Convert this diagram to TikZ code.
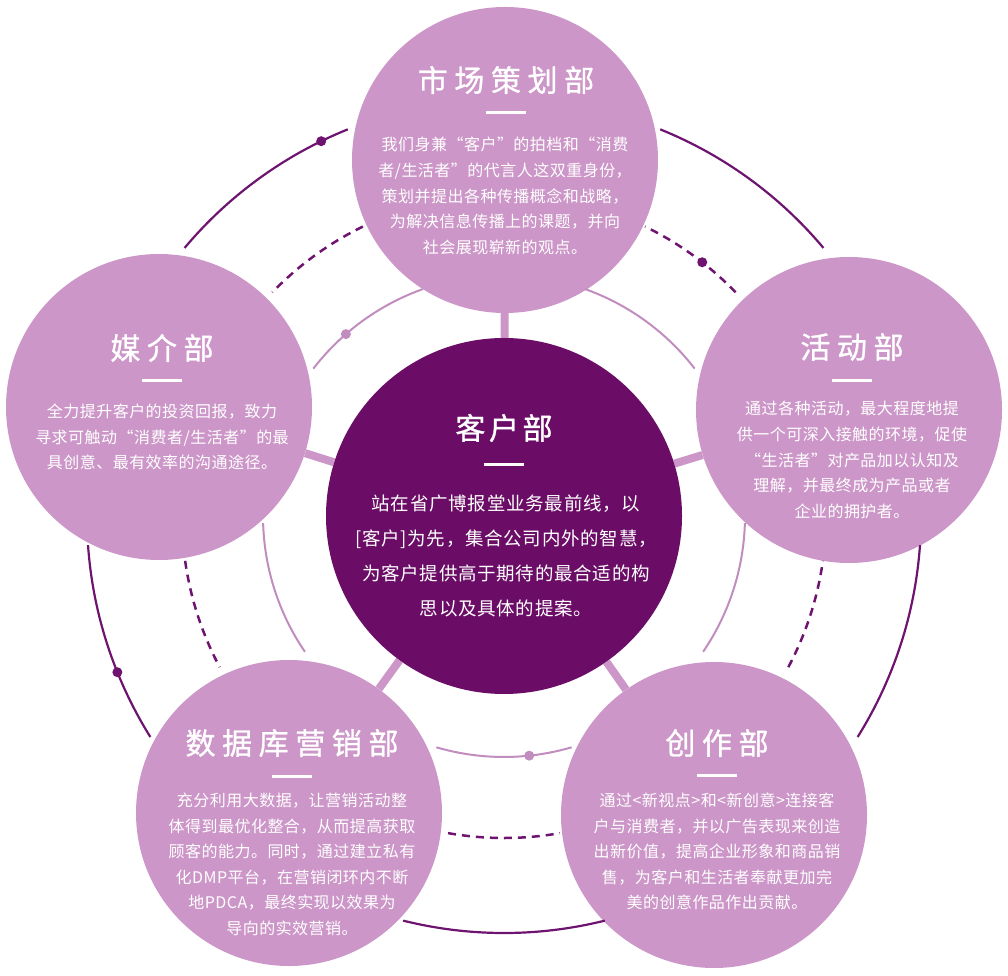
\documentclass[tikz,border=0pt]{standalone}
\usepackage{fontspec}
\newfontfamily\deptfont[LetterSpace=22,FakeBold=1]{Noto Sans CJK SC}
\newfontfamily\hubtitlefont[LetterSpace=12,FakeBold=1]{Noto Sans CJK SC}
\newfontfamily\deptbodyfont[LetterSpace=3]{Noto Sans CJK SC}
\newfontfamily\hubbodyfont[LetterSpace=4]{Noto Sans CJK SC}
\usetikzlibrary{calc,backgrounds}
\definecolor{deptpurple}{HTML}{CC96C8}
\definecolor{hubpurple}{HTML}{6B0D67}
\definecolor{ringdark}{HTML}{6E1470}
\definecolor{ringlight}{HTML}{C08DBE}
\tikzset{
    dept/.style={circle,fill=deptpurple,minimum size=306pt,inner sep=0pt},
    hub/.style={circle,fill=hubpurple,minimum size=356pt,inner sep=0pt},
    dept title/.style={text=white,inner sep=0pt,font=\deptfont\fontsize{30}{36}\selectfont},
    hub title/.style={text=white,inner sep=0pt,font=\hubtitlefont\fontsize{30}{36}\selectfont},
    dept body/.style={text=white,align=center,inner sep=0pt,font=\deptbodyfont\fontsize{16}{25.6}\selectfont},
    hub body/.style={text=white,align=center,inner sep=0pt,font=\hubbodyfont\fontsize{18.5}{35}\selectfont},
    title bar/.style={fill=white,minimum width=40pt,minimum height=3pt,inner sep=0pt},
    spoke/.style={deptpurple,line width=8pt},
    outer ring/.style={ringdark,line width=2.2pt},
    dashed ring/.style={ringdark,line width=2.5pt,dash pattern=on 8pt off 6pt},
    inner ring/.style={ringlight,line width=2pt},
    ring dot/.style={circle,fill=#1,inner sep=0pt,minimum size=10pt},
}

\begin{document}
\begin{tikzpicture}[x=1pt,y=1pt]
    \useasboundingbox (0,0) rectangle (1008,975);

    \node[hub] (hub) at (504,459) {};
    \node[dept] (market) at (505,815) {};
    \node[dept] (event) at (849,565) {};
    \node[dept] (media) at (159,568) {};
    \node[dept] (data) at (289,162) {};
    \node[dept] (creative) at (714,160) {};

    \begin{scope}[on background layer]
        \foreach \d in {market,event,media,data,creative}
            \draw[spoke] (hub) -- (\d);
    \end{scope}

    % rings between the departments
    \foreach \a in {-90,-18,54,126,198} {
        \draw[inner ring] ($(hub)+(\a-16.3:241)$) arc[start angle=\a-16.3, end angle=\a+16.3, radius=241];
        \draw[dashed ring] ($(hub)+(\a-10:322)$) arc[start angle=\a-10, end angle=\a+10, radius=322];
        \draw[outer ring] ($(hub)+(\a-14:417)$) arc[start angle=\a-14, end angle=\a+14, radius=417];
    }
    \node[ring dot=ringdark] (outer dot a) at ($(hub)+(116:417)$) {};
    \node[ring dot=ringdark] (outer dot b) at ($(hub)+(202:417)$) {};
    \node[ring dot=ringdark] (dashed dot) at ($(hub)+(52:322)$) {};
    \node[ring dot=ringlight] (inner dot a) at ($(hub)+(131:241)$) {};
    \node[ring dot=ringlight] (inner dot b) at ($(hub)+(-84:241)$) {};

    % centre
    \node[hub title] (hub title) at ($(hub)+(0,88)$) {客户部};
    \node[title bar] (hub bar) at ($(hub)+(0,51)$) {};
    \node[hub body] (hub text) at ($(hub)+(2,-39.5)$) {站在省广博报堂业务最前线，以\\{}[客户]为先，集合公司内外的智慧，\\为客户提供高于期待的最合适的构\\思以及具体的提案。};

    % departments
    \node[dept title] (market title) at ($(market)+(1,80)$) {市场策划部};
    \node[title bar] (market bar) at ($(market)+(1,47)$) {};
    \node[dept body] (market text) at ($(market)+(0,-36)$) {我们身兼“客户”的拍档和“消费\\者/生活者”的代言人这双重身份，\\策划并提出各种传播概念和战略，\\为解决信息传播上的课题，并向\\社会展现崭新的观点。};

    \node[dept title] (event title) at ($(event)+(3,63)$) {活动部};
    \node[title bar] (event bar) at ($(event)+(3,29)$) {};
    \node[dept body] (event text) at ($(event)+(3,-50)$) {通过各种活动，最大程度地提\\供一个可深入接触的环境，促使\\“生活者”对产品加以认知及\\理解，并最终成为产品或者\\企业的拥护者。};

    \node[dept title] (media title) at ($(media)+(3,59)$) {媒介部};
    \node[title bar] (media bar) at ($(media)+(3,26)$) {};
    \node[dept body] (media text) at ($(media)+(3,-30)$) {全力提升客户的投资回报，致力\\寻求可触动“消费者/生活者”的最\\具创意、最有效率的沟通途径。};

    \node[dept title] (data title) at ($(data)+(3,70)$) {数据库营销部};
    \node[title bar] (data bar) at ($(data)+(3,37)$) {};
    \node[dept body] (data text) at ($(data)+(3,-51.5)$) {充分利用大数据，让营销活动整\\体得到最优化整合，从而提高获取\\顾客的能力。同时，通过建立私有\\化DMP平台，在营销闭环内不断\\地PDCA，最终实现以效果为\\导向的实效营销。};

    \node[dept title] (creative title) at ($(creative)+(3,72)$) {创作部};
    \node[title bar] (creative bar) at ($(creative)+(3,40)$) {};
    \node[dept body] (creative text) at ($(creative)+(3,-36.5)$) {通过<新视点>和<新创意>连接客\\户与消费者，并以广告表现来创造\\出新价值，提高企业形象和商品销\\售，为客户和生活者奉献更加完\\美的创意作品作出贡献。};
\end{tikzpicture}
\end{document}
